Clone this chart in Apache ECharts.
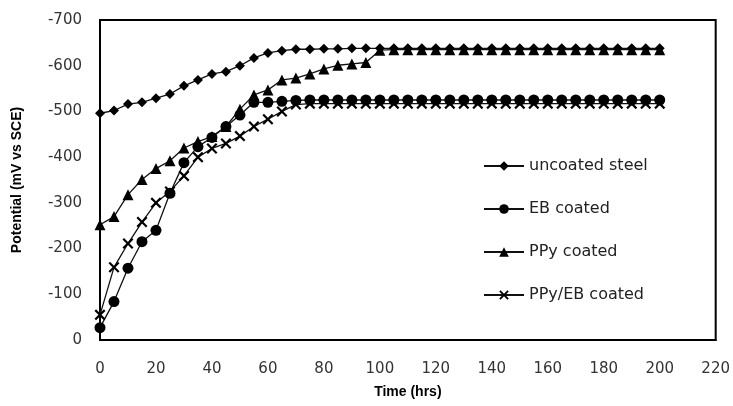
<!DOCTYPE html>
<html>
<head>
<meta charset="utf-8">
<script src="https://cdn.jsdelivr.net/npm/echarts@6/dist/echarts.min.js"></script>
<style>
html,body{margin:0;padding:0;background:#fff;}
#main{width:733px;height:406px;}
</style>
</head>
<body>
<div id="main"></div>
<script>
// time points (hrs), every 5 hrs from 0 to 200
var hours = [0,5,10,15,20,25,30,35,40,45,50,55,60,65,70,75,80,85,90,95,100,
  105,110,115,120,125,130,135,140,145,150,155,160,165,170,175,180,185,190,195,200];

// potential readings (mV vs SCE)
var uncoated = [-496,-502,-516,-520,-529,-538,-556,-569,-582,-587,-600,-617,-628,-633,-636,-636,-637,-637,-638,-638,-638,
  -638,-638,-638,-638,-638,-638,-638,-638,-638,-638,-638,-638,-638,-638,-638,-638,-638,-638,-638,-638];
var ebCoated = [-27,-84,-157,-215,-240,-321,-388,-423,-443,-467,-492,-520,-520,-522,-524,-525,-525,-525,-525,-525,-525,
  -525,-525,-525,-525,-525,-525,-525,-525,-525,-525,-525,-525,-525,-525,-525,-525,-525,-525,-525,-525];
var ppyCoated = [-252,-270,-318,-351,-375,-392,-420,-434,-445,-467,-505,-536,-547,-569,-573,-582,-593,-601,-604,-607,-634,
  -635,-635,-635,-635,-635,-635,-635,-635,-635,-635,-635,-635,-635,-635,-635,-635,-635,-635,-635,-635];
var ppyEbCoated = [-55,-159,-211,-258,-300,-325,-359,-400,-419,-430,-446,-467,-483,-500,-515,-517,-517,-517,-517,-517,-517,
  -517,-517,-517,-517,-517,-517,-517,-517,-517,-517,-517,-517,-517,-517,-517,-517,-517,-517,-517,-517];

var names = ['uncoated steel','EB coated','PPy coated','PPy/EB coated'];

var crossPath = 'path://M0,1.4L1.4,0L5,3.6L8.6,0L10,1.4L6.4,5L10,8.6L8.6,10L5,6.4L1.4,10L0,8.6L3.6,5Z';

function pairs(vals){
  return hours.map(function(h,i){ return [h, vals[i]]; });
}

function mkSeries(name, vals, symbol, size){
  return {
    name: name,
    type: 'line',
    data: pairs(vals),
    symbol: symbol,
    symbolSize: size,
    showAllSymbol: true,
    lineStyle: { color: '#111', width: 1.3 },
    itemStyle: { color: '#000', borderWidth: 0 },
    emphasis: { disabled: true },
    animation: false
  };
}

var chart = echarts.init(document.getElementById('main'));
chart.setOption({
  animation: false,
  grid: {
    left: 100, right: 16, top: 20, bottom: 66,
    show: true, borderColor: '#000', borderWidth: 2
  },
  legend: {
    orient: 'vertical',
    left: 483,
    top: 158,
    padding: 0,
    itemWidth: 40,
    itemHeight: 12,
    itemGap: 27,
    data: names,
    textStyle: { fontFamily: 'DejaVu Sans', fontSize: 16, color: '#222' }
  },
  xAxis: {
    type: 'value',
    min: 0, max: 220, interval: 20,
    name: 'Time (hrs)',
    nameLocation: 'middle',
    nameGap: 45,
    nameTextStyle: { fontFamily: 'Liberation Sans', fontWeight: 'bold', fontSize: 14, color: '#000' },
    axisLine: { lineStyle: { color: '#000', width: 2 } },
    axisTick: { show: false },
    splitLine: { show: false },
    axisLabel: { margin: 22, fontFamily: 'DejaVu Sans', fontSize: 15, color: '#333' }
  },
  yAxis: {
    type: 'value',
    inverse: true,
    min: -700, max: 0, interval: 100,
    name: 'Potential (mV vs SCE)',
    nameLocation: 'middle',
    nameGap: 76,
    nameTextStyle: { fontFamily: 'Liberation Sans', fontWeight: 'bold', fontSize: 14, color: '#000' },
    axisLine: { show: true, lineStyle: { color: '#000', width: 2 } },
    axisTick: { show: false },
    splitLine: { show: false },
    axisLabel: { margin: 18, fontFamily: 'DejaVu Sans', fontSize: 15, color: '#333' }
  },
  series: [
    mkSeries(names[0], uncoated, 'diamond', 10),
    mkSeries(names[1], ebCoated, 'circle', 11),
    mkSeries(names[2], ppyCoated, 'triangle', 11),
    mkSeries(names[3], ppyEbCoated, crossPath, 11)
  ]
});
</script>
</body>
</html>
